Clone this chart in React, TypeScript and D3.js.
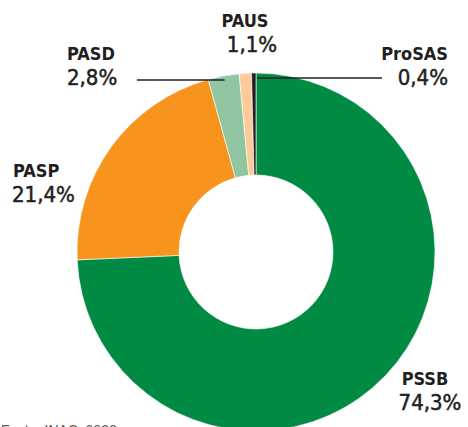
import React from "react";
import * as d3 from "d3";

const categories = ["PSSB", "PASP", "PASD", "PAUS", "ProSAS"];
const values = [74.3, 21.4, 2.8, 1.1, 0.4];
const valueLabels = ["74,3%", "21,4%", "2,8%", "1,1%", "0,4%"];
const colors = ["#008A43", "#F7941D", "#8FC5A1", "#FDCB99", "#231F20"];
const sourceText = "Fonte: INAC, 2020";

const W = 468;
const H = 427;
const cx = 256;
const cy = 252;
const outerR = 179;
const innerR = 77;

const labelPos: Record<string, { x: number; y: number; anchor: string; dx: number }> = {
  PSSB: { x: 425, y: 385, anchor: "middle", dx: 5 },
  PASP: { x: 13, y: 177, anchor: "start", dx: -1 },
  PASD: { x: 67, y: 60, anchor: "start", dx: 0 },
  PAUS: { x: 245, y: 27, anchor: "middle", dx: 7 },
  ProSAS: { x: 448, y: 60, anchor: "end", dx: 0 },
};

export default function App() {
  const data = categories.map((c, i) => ({ name: c, value: values[i], label: valueLabels[i], color: colors[i] }));
  const pie = d3.pie<any>().value((d) => d.value).sort(null);
  const arcs = pie(data);
  const arc = d3.arc<any>().innerRadius(innerR).outerRadius(outerR);
  const font = "'DejaVu Sans Condensed', 'Liberation Sans Narrow', sans-serif";

  const pasd = arcs[2];
  const pasdMid = (pasd.startAngle + pasd.endAngle) / 2;
  const leaderY1 = 80;
  const leaderY2 = 78;

  return (
    <svg width={W} height={H} style={{ position: "absolute", left: 0, top: 0, background: "#fff" }}>
      <g transform={`translate(${cx},${cy})`}>
        {arcs.map((a, i) => (
          <path key={i} d={arc(a) || ""} fill={a.data.color} stroke="#fff" strokeWidth={0.6} />
        ))}
      </g>
      <line x1={137} x2={cx + Math.sin(pasdMid) * (outerR - 5)} y1={leaderY1} y2={leaderY1} stroke="#231F20" strokeWidth={1.5} />
      <line x1={cx + 1} x2={382} y1={leaderY2} y2={leaderY2} stroke="#231F20" strokeWidth={1.5} />
      {data.map((d) => {
        const p = labelPos[d.name];
        return (
          <g key={d.name} fontFamily={font} fill="#231F20">
            <text x={p.x} y={p.y} textAnchor={p.anchor} fontWeight="bold" fontSize={18}>
              {d.name}
            </text>
            <text x={p.x + p.dx} y={p.y + 25} textAnchor={p.anchor} fontSize={22} stroke="#231F20" strokeWidth={0.5}>
              {d.label}
            </text>
          </g>
        );
      })}
      <text x={0} y={435} fontFamily="'Liberation Sans', sans-serif" fontStyle="italic" fontSize={14} fill="#555">
        {sourceText}
      </text>
    </svg>
  );
}
